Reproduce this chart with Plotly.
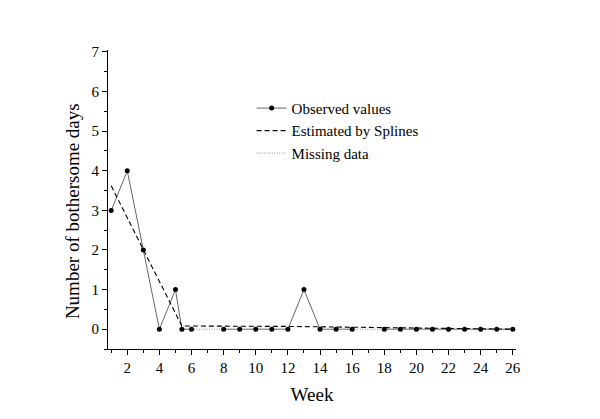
import plotly.graph_objects as go

obs_weeks = [1, 2, 3, 4, 5, 5.4, 6, None, 8, 9, 10, 11, 12, 13, 14, 15, 16, None, 18, 19, 20, 21, 22, 23, 24, 25, 26]
obs_values = [3, 4, 2, 0, 1, 0, 0, None, 0, 0, 0, 0, 0, 1, 0, 0, 0, None, 0, 0, 0, 0, 0, 0, 0, 0, 0]

spline_weeks = [1, 2, 3, 4, 5, 5.4, 6, 8, 10, 12, 14, 16, 18, 20, 22, 24, 26]
spline_values = [3.62, 2.81, 2.0, 1.19, 0.38, 0.08, 0.08, 0.08, 0.07, 0.07, 0.06, 0.05, 0.04, 0.03, 0.02, 0.01, 0.0]

missing_weeks = [6, 7, 8, None, 16, 17, 18]
missing_values = [0, 0, 0, None, 0, 0, 0]

y_title = "Number of bothersome days"
x_title = "Week"

font_family = "Liberation Serif, Times New Roman, serif"

fig = go.Figure()
fig.add_trace(go.Scatter(
    x=obs_weeks, y=obs_values, mode="lines+markers", name="Observed values",
    line=dict(color="#555555", width=0.9), marker=dict(color="black", size=5),
    connectgaps=False,
))
fig.add_trace(go.Scatter(
    x=spline_weeks, y=spline_values, mode="lines", name="Estimated by Splines",
    line=dict(color="black", width=1.1, dash="5px,3px"),
))
fig.add_trace(go.Scatter(
    x=missing_weeks, y=missing_values, mode="lines", name="Missing data",
    line=dict(color="#777777", width=0.8, dash="1px,1.5px"),
))

fig.update_layout(
    width=600, height=419,
    margin=dict(l=100, r=92, t=42, b=78),
    paper_bgcolor="white", plot_bgcolor="white",
    font=dict(family=font_family, color="black", size=15),
    showlegend=True,
    legend=dict(x=0.352, y=0.86, xanchor="left", yanchor="top",
                bgcolor="rgba(0,0,0,0)", font=dict(size=15), tracegroupgap=0,
                itemwidth=30),
    annotations=[dict(
        text=y_title, textangle=-90, xref="paper", yref="paper",
        x=-0.088, y=0.4615, xanchor="center", yanchor="middle",
        showarrow=False, font=dict(size=19),
    )],
)
fig.update_xaxes(
    range=[0.8, 26.2], tick0=0, dtick=2, ticks="outside", ticklen=5,
    tickcolor="black", showline=True, linecolor="black", linewidth=1,
    showgrid=False, zeroline=False, automargin=False,
    minor=dict(dtick=1, tick0=0, ticks="outside", ticklen=3, tickcolor="black"),
    title=dict(text=x_title, font=dict(size=19), standoff=12),
    tickfont=dict(size=15),
)
fig.update_yaxes(
    range=[-0.5, 7.05], tick0=0, dtick=1, ticks="outside", ticklen=5,
    tickcolor="black", showline=True, linecolor="black", linewidth=1,
    showgrid=False, zeroline=False, automargin=False,
    minor=dict(dtick=0.5, tick0=0, ticks="outside", ticklen=3, tickcolor="black"),
    tickfont=dict(size=15),
)

fig.write_html("out.html")
